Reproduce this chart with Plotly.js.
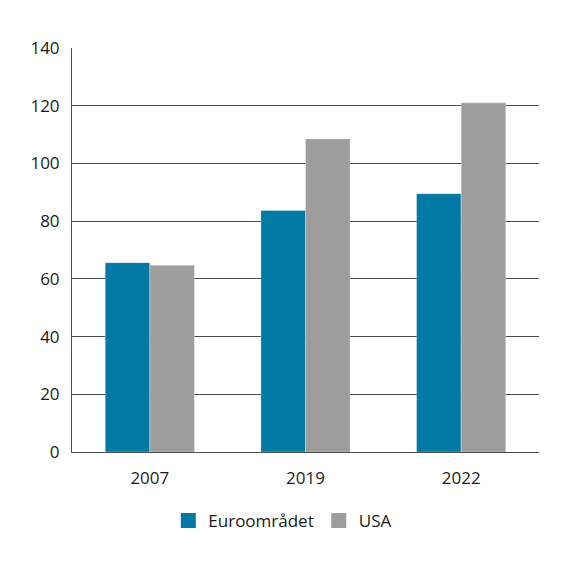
<!DOCTYPE html>
<html>
<head>
<meta charset="utf-8">
<script src="https://cdn.plot.ly/plotly-3.0.1.min.js"></script>
<style>
  html, body { margin: 0; padding: 0; background: #fff; }
  #chart { width: 576px; height: 568px; }
</style>
</head>
<body>
<div id="chart"></div>
<script>
// Values
const years = ["2007", "2019", "2022"];
const euroArea = [65.6, 83.7, 89.5];
const usa = [64.7, 108.5, 121.0];
const seriesNames = ["Euroområdet", "USA"];

const BLUE = "#007aa5";
const GREY = "#9d9d9c";
const GRID = "#4d4d4d";
const TEXT = "#1a1a1a";
const FONT = "'Open Sans', 'DejaVu Sans', sans-serif";

const colors = [BLUE, GREY];
const values = [euroArea, usa];

// bars (legend drawn by the marker-only traces below, to get bigger squares)
const bars = values.map((vals, i) => ({
    x: years, y: vals, type: "bar", name: seriesNames[i],
    marker: { color: colors[i], line: { color: "rgba(255,255,255,0.5)", width: 0.6 } },
    showlegend: false,
    hoverinfo: "skip",
}));

const legendItems = seriesNames.map((name, i) => ({
    x: [null], y: [null], type: "scatter", mode: "markers", name,
    marker: { symbol: "square", size: 15, color: colors[i] },
    hoverinfo: "skip",
}));

const layout = {
    width: 576,
    height: 568,
    paper_bgcolor: "#fff",
    plot_bgcolor: "#fff",
    margin: { t: 48, b: 116, l: 72, r: 37 },
    font: { family: FONT, size: 17, color: TEXT },
    barmode: "group",
    bargap: 0.427,
    bargroupgap: 0,
    xaxis: {
        type: "category",
        showgrid: false,
        showline: true,
        linecolor: GRID,
        linewidth: 1,
        ticks: "",
        ticklabelstandoff: 11,
        tickfont: { size: 17, color: TEXT },
    },
    yaxis: {
        range: [0, 140],
        dtick: 20,
        showgrid: true,
        gridcolor: GRID,
        gridwidth: 1,
        zeroline: false,
        showline: true,
        linecolor: GRID,
        linewidth: 1,
        ticks: "",
        ticklabelstandoff: 8,
        tickfont: { size: 17, color: TEXT },
    },
    showlegend: true,
    legend: {
        orientation: "h",
        xref: "container",
        yref: "container",
        x: 0.491,
        xanchor: "center",
        y: 0.083,
        yanchor: "middle",
        font: { size: 17, color: TEXT },
        itemwidth: 30,
        tracegroupgap: 0,
    },
};

Plotly.newPlot("chart", bars.concat(legendItems), layout, { staticPlot: true, displayModeBar: false });
</script>
</body>
</html>
